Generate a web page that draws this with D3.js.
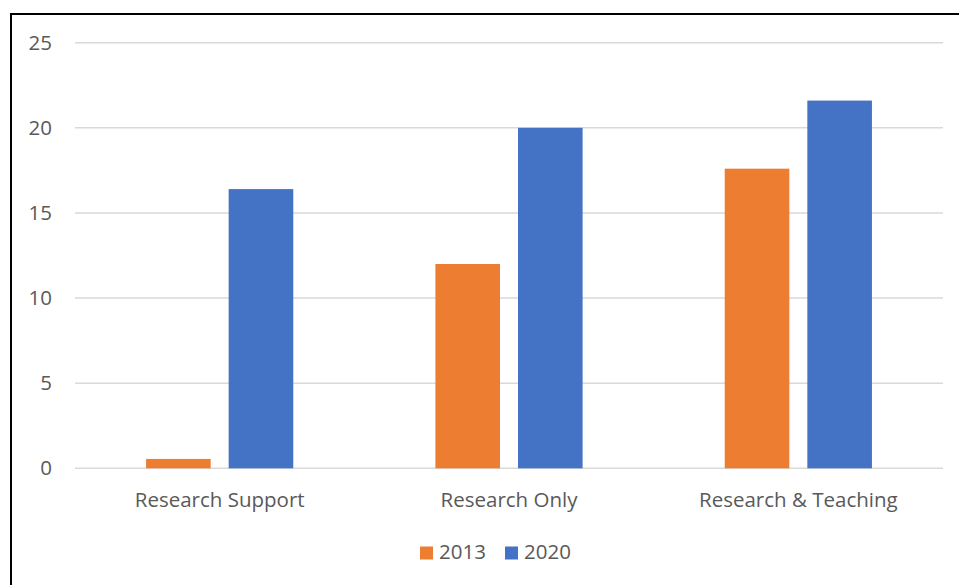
<!DOCTYPE html>
<html><head><meta charset="utf-8">
<script src="https://cdn.jsdelivr.net/npm/d3@7"></script>
<style>body{margin:0;background:#fff}svg{display:block}</style>
</head><body><svg id="c" width="959" height="585"></svg>
<script>
const categories = ["Research Support", "Research Only", "Research & Teaching"];
const seriesNames = ["2013", "2020"];
const values2013 = [0.55, 12.0, 17.6];
const values2020 = [16.4, 20.0, 21.6];
const yTicks = [0, 5, 10, 15, 20, 25];
const colors = ["#ED7D31", "#4472C4"];

(function () {
const svg = d3.select("#c");
const font = "'Open Sans', 'Liberation Sans', sans-serif";
const fs = 20.5;
const textColor = "#595959";

svg.append("rect").attr("x", 11).attr("y", 14).attr("width", 1000).attr("height", 700)
  .attr("fill", "#fff").attr("stroke", "#000").attr("stroke-width", 2);

const pLeft = 75, pRight = 943, pTop = 42.7, pBottom = 468.3;
const x = d3.scaleBand().domain(categories).range([pLeft, pRight]);
const y = d3.scaleLinear().domain([0, 25]).range([pBottom, pTop]);

const g = svg.append("g");
g.selectAll("line.grid").data(yTicks).enter().append("line")
  .attr("x1", pLeft).attr("x2", pRight)
  .attr("y1", d => y(d)).attr("y2", d => y(d))
  .attr("stroke", "#d9d9d9").attr("stroke-width", 1.5);

const yAxis = d3.axisLeft(y).tickValues(yTicks).tickSize(0).tickPadding(0);
const ya = svg.append("g").attr("transform", `translate(52,0)`).call(yAxis);
ya.select(".domain").remove();
ya.selectAll("text").attr("font-family", font).attr("font-size", fs).attr("fill", textColor);

const barW = 64.6, gap = 18;
const sub = d3.scaleOrdinal().domain(seriesNames).range([-(gap/2 + barW), gap/2]);
const data = [];
categories.forEach((c, i) => {
  data.push({c, s: "2013", v: values2013[i], col: colors[0]});
  data.push({c, s: "2020", v: values2020[i], col: colors[1]});
});
g.selectAll("rect.bar").data(data).enter().append("rect")
  .attr("x", d => x(d.c) + x.bandwidth()/2 + sub(d.s))
  .attr("y", d => y(d.v))
  .attr("width", barW)
  .attr("height", d => y(0) - y(d.v))
  .attr("fill", d => d.col);

const xAxis = d3.axisBottom(x).tickSize(0).tickPadding(0);
const xa = svg.append("g").attr("transform", `translate(0,507)`).call(xAxis);
xa.select(".domain").remove();
xa.selectAll("text").attr("dy", 0).attr("font-family", font).attr("font-size", fs).attr("fill", textColor);

const legX = [420, 505];
const leg = svg.append("g");
seriesNames.forEach((s, i) => {
  leg.append("rect").attr("x", legX[i]).attr("y", 546.5).attr("width", 13).attr("height", 13).attr("fill", colors[i]);
  leg.append("text").attr("x", legX[i] + 19).attr("y", 559)
    .attr("font-family", font).attr("font-size", fs).attr("fill", textColor).text(s);
});
})();
</script></body></html>
